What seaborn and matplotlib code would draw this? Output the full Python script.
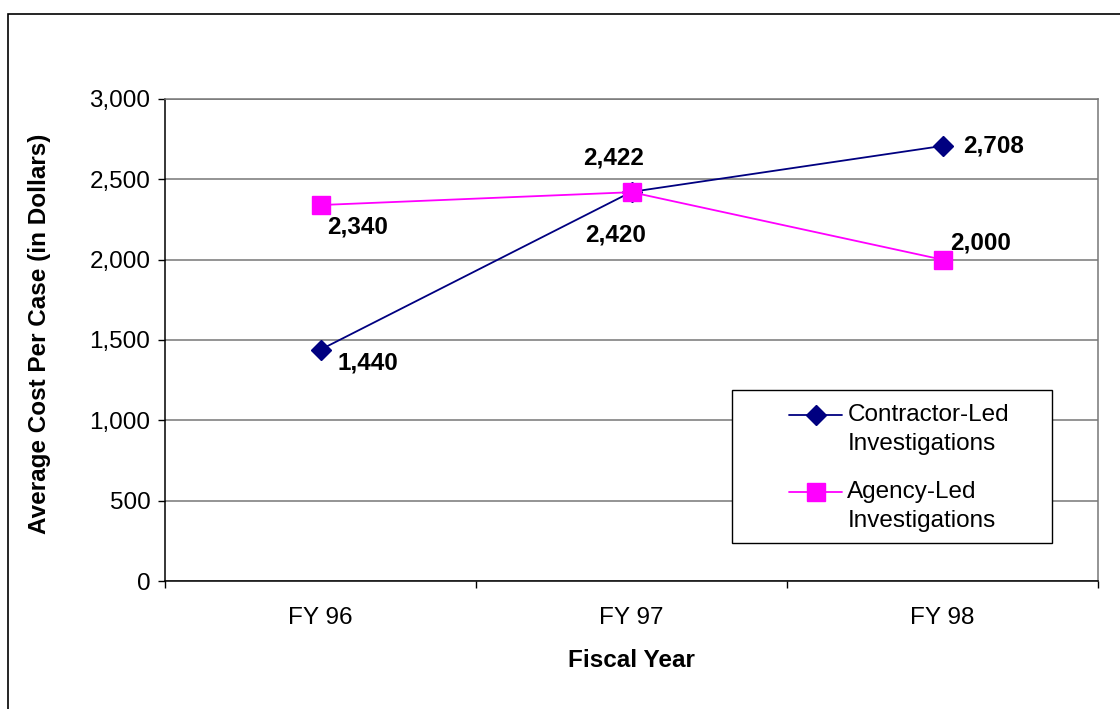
import numpy as np
import pandas as pd
import matplotlib
matplotlib.use("Agg")
import matplotlib.pyplot as plt
import seaborn as sns
from matplotlib.ticker import FuncFormatter, FixedLocator, MultipleLocator
from matplotlib.legend_handler import HandlerLine2D
from matplotlib.patches import Rectangle

# ---- data ----
years = ["FY 96", "FY 97", "FY 98"]
contractor_cost = [1440, 2422, 2708]
agency_cost = [2340, 2420, 2000]
series_keys = ["Contractor-Led", "Agency-Led"]
legend_labels = ["Contractor-Led\nInvestigations", "Agency-Led\nInvestigations"]

# label offsets in pixels (dx, dy, ha) for each point
contractor_offsets = [(17, -13, "left"), (-18, 34, "center"), (21, 0, "left")]
agency_offsets = [(7, -22, "left"), (-16, -43, "center"), (8, 17, "left")]

colors = {"Contractor-Led": "#000080", "Agency-Led": "#FF00FF"}
markers = {"Contractor-Led": "D", "Agency-Led": "s"}
FS = 17.5

sns.set_theme(style="white")
plt.rcParams["font.family"] = ["Liberation Sans", "DejaVu Sans"]
plt.rcParams["text.color"] = "black"
plt.rcParams["axes.labelcolor"] = "black"
plt.rcParams["xtick.color"] = "black"
plt.rcParams["ytick.color"] = "black"

df = pd.DataFrame({
    "year": years * 2,
    "cost": contractor_cost + agency_cost,
    "series": [series_keys[0]] * len(years) + [series_keys[1]] * len(years),
})

fig = plt.figure(figsize=(11.2, 7.09), dpi=100)
fig.patch.set_facecolor("white")
ax = fig.add_axes([165 / 1120, 1 - 581 / 709, (1098 - 165) / 1120, (581 - 99) / 709])

sns.lineplot(data=df, x="year", y="cost", hue="series", style="series",
             hue_order=series_keys, style_order=series_keys,
             markers=markers, dashes=False, palette=colors,
             linewidth=1.3, sort=False, legend=False, ax=ax)

for line, key in zip(ax.lines, series_keys):
    line.set_markeredgecolor(colors[key])
    line.set_markerfacecolor(colors[key])
    line.set_markeredgewidth(1.0)
    line.set_markersize(10 if markers[key] == "D" else 12.5)
    line.set_zorder(3 if key == "Agency-Led" else 2.5)

# axes limits, ticks, grid
ax.set_ylim(0, 3000)
ax.set_xlim(-0.5, len(years) - 0.5)
ax.yaxis.set_major_locator(MultipleLocator(500))
ax.yaxis.set_major_formatter(FuncFormatter(lambda v, p: f"{int(v):,}"))
ax.xaxis.set_minor_locator(FixedLocator(np.arange(-0.5, len(years), 1.0)))
ax.tick_params(axis="y", which="major", direction="out", length=5, width=1,
               color="black", pad=5.5, labelsize=FS, labelcolor="black", left=True)
ax.tick_params(axis="x", which="major", length=0, pad=19, labelsize=FS, labelcolor="black")
ax.tick_params(axis="x", which="minor", direction="out", length=5, width=1,
               color="black", bottom=True)
ax.grid(axis="y", color="#777777", linewidth=1.1)
ax.grid(axis="x", visible=False)
ax.set_axisbelow(True)

for side in ["left", "bottom"]:
    ax.spines[side].set_color("black")
    ax.spines[side].set_linewidth(1.1)
for side in ["top", "right"]:
    ax.spines[side].set_color("#777777")
    ax.spines[side].set_linewidth(1.1)

ax.set_xlabel("Fiscal Year", fontsize=FS, fontweight="bold", va="center", color="black")
ax.xaxis.set_label_coords(0.4995, -0.164)
ax.set_ylabel("Average Cost Per Case (in Dollars)", fontsize=FS, fontweight="bold",
              va="center", color="black")
ax.yaxis.set_label_coords(-0.134, 0.512)

# value labels
for values, offsets in [(contractor_cost, contractor_offsets), (agency_cost, agency_offsets)]:
    for yr, v, (dx, dy, ha) in zip(years, values, offsets):
        ax.annotate(f"{v:,}", xy=(yr, v), xytext=(dx, dy), textcoords="offset pixels",
                    ha=ha, va="center", fontsize=FS, fontweight="bold", color="black",
                    zorder=6)


# legend: handle sits beside the first line of each two-line label
class FirstLineHandler(HandlerLine2D):
    def create_artists(self, legend, orig_handle, xdescent, ydescent, width, height,
                       fontsize, trans):
        artists = super().create_artists(legend, orig_handle, xdescent, ydescent,
                                         width, height, fontsize, trans)
        for a in artists:
            a.set_ydata(np.asarray(a.get_ydata()) + 0.6 * fontsize)
        return artists


ax.add_patch(Rectangle((0.6077, 0.0788), 0.343, 0.317, transform=ax.transAxes,
                       facecolor="white", edgecolor="black", linewidth=1.0, zorder=4.5))
leg = ax.legend(ax.lines[:2], legend_labels, loc="upper left",
                bbox_to_anchor=((789 - 165) / 933, (581 - 404) / 482),
                frameon=False, fontsize=FS, handlelength=2.2, handletextpad=0.2,
                labelspacing=1.08, borderpad=0, borderaxespad=0,
                handler_map={ln: FirstLineHandler() for ln in ax.lines[:2]})
for t in leg.get_texts():
    t.set_linespacing(1.39)
    t.set_color("black")
leg.set_zorder(5)

# outer frame around the chart
fig.patches.append(Rectangle((8 / 1120, -0.05), 1.2, (709 - 14) / 709 + 0.05,
                             transform=fig.transFigure, fill=False,
                             edgecolor="black", linewidth=1.2))

fig.savefig("out.png", dpi=100)
